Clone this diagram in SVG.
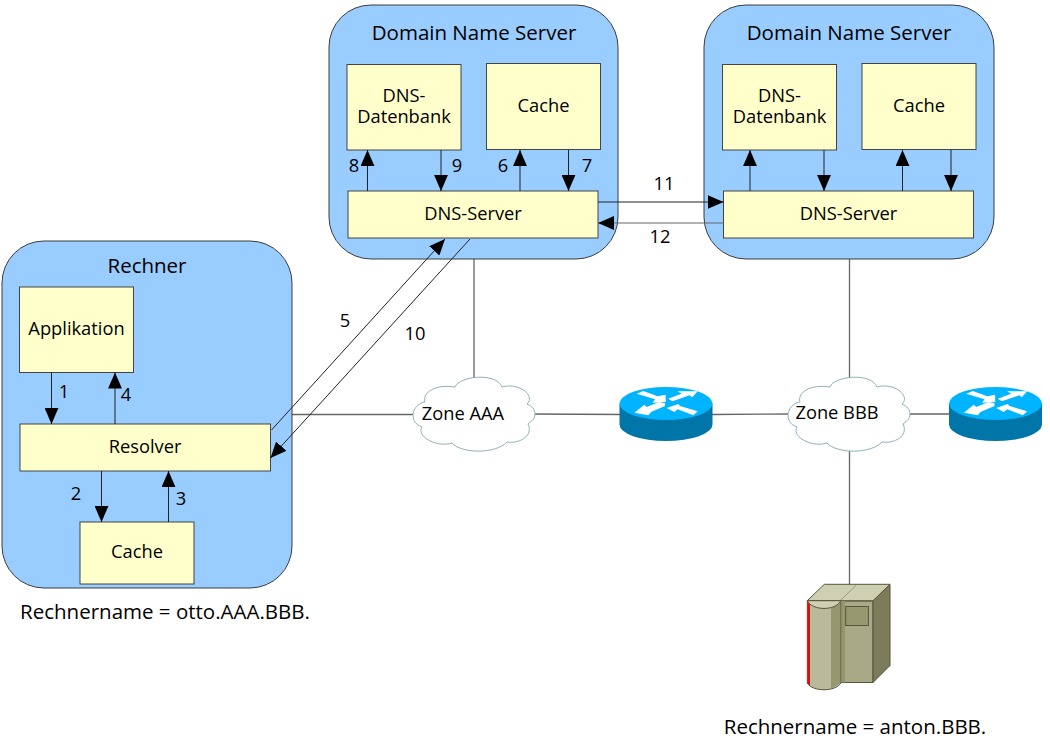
<svg xmlns="http://www.w3.org/2000/svg" width="1050" height="740" viewBox="0 0 1050 740">
<style>
text{font-family:"Open Sans","Noto Sans","DejaVu Sans",sans-serif;font-size:18.300px;fill:#000;text-anchor:middle}
.t{font-size:20.500px}
.g{fill:#99ccff;stroke:#3c3c3c;stroke-width:1}
.b{fill:#ffffcc;stroke:#444;stroke-width:1}
.c{fill:none;stroke:#222;stroke-width:1}
.a{marker-end:url(#ah)}
.n{fill:none;stroke:#666;stroke-width:1.300}
.cl{fill:#fff;stroke:#8fb0b5;stroke-width:1}
.s{stroke:#555538;stroke-width:1}
</style>
<defs>
<marker id="ah" markerUnits="userSpaceOnUse" markerWidth="16" markerHeight="14" refX="15" refY="6.500" orient="auto" viewBox="0 0 15 13"><path d="M0 0L15 6.500L0 13Z" fill="#000"/></marker>
<path id="cloud" d="M-61 0C-60-8-52-12-49-12C-52-22-38-30-19-27C-15-38 22-42 28-27C45-32 62-18 53-10C58-8 61-4 61 0C61 6 56 8 54 10C60 22 45 30 33 28C22 40-12 40-22 29C-38 34-58 22-52 13C-60 10-61 5-61 0Z"/>
<g id="router">
<path d="M0 0V21A46.500 16.500 0 0 0 93 21V0Z" fill="#0076a8"/>
<ellipse cx="46.500" cy="0" rx="46.500" ry="16.500" fill="#00b4ff"/>
<g transform="translate(-4.500 -21.500) scale(.3333)" fill="#fff">
<path d="M65 35L85 27L128 43L152 38V60L113 62L120 52Z"/>
<path d="M160 50L200 35L188 28L248 28L232 46L224 40L172 58Z"/>
<path d="M150 64L132 60L95 75L88 68L58 92L100 100L108 90L150 72Z"/>
<path d="M155 78L190 66L195 72L248 88L235 100L188 82L178 90Z"/>
</g>
</g>
</defs>
<g id="connectors">
<path class="n" d="M292 414.500H420M530 414L625 414.500M712 414.500L795 414M905 414H950M474 259V385M849.500 259V385M849.500 445V585"/>
</g>
<g id="rechner"><rect class="g" x="2" y="241" width="290" height="347" rx="42"/><text class="t" x="147" y="272.500">Rechner</text></g>
<g id="dns1"><rect class="g" x="329" y="5" width="289" height="254" rx="42"/><text class="t" x="474" y="39.500">Domain Name Server</text></g>
<g id="dns2"><rect class="g" x="704" y="5" width="290" height="254" rx="42"/><text class="t" x="849" y="39.500">Domain Name Server</text></g>
<g id="applikation"><rect class="b" x="19.500" y="287" width="114" height="85.500"/><text x="76.500" y="335">Applikation</text></g>
<g id="resolver"><rect class="b" x="20" y="424" width="250.500" height="47"/><text x="145" y="452.500">Resolver</text></g>
<g id="cache0"><rect class="b" x="80" y="522" width="114" height="62"/><text x="137" y="557.500">Cache</text></g>
<g id="db1"><rect class="b" x="347" y="64.500" width="114" height="85.500"/><text x="404" y="102">DNS-</text><text x="404" y="123">Datenbank</text></g>
<g id="cache1"><rect class="b" x="486.500" y="63.500" width="114" height="86"/><text x="543.500" y="112">Cache</text></g>
<g id="server1"><rect class="b" x="348" y="191" width="250" height="47"/><text x="473" y="220">DNS-Server</text></g>
<g id="db2"><rect class="b" x="722.500" y="64.500" width="114" height="85.500"/><text x="779.500" y="102">DNS-</text><text x="779.500" y="123">Datenbank</text></g>
<g id="cache2"><rect class="b" x="862" y="63.500" width="114" height="86"/><text x="919" y="112">Cache</text></g>
<g id="server2"><rect class="b" x="723.500" y="191" width="250" height="47"/><text x="848.500" y="220">DNS-Server</text></g>
<g id="zoneA"><use href="#cloud" x="474" y="414" class="cl"/><text x="463" y="420">Zone AAA</text></g>
<g id="zoneB"><use href="#cloud" x="849" y="414" class="cl"/><text x="837" y="419">Zone BBB</text></g>
<g id="r1"><use href="#router" x="619.500" y="403.500"/></g>
<g id="r2"><use href="#router" x="949" y="403.500"/></g>
<g id="srv">
<path class="s" d="M824 601H873V682.500H824Z" fill="#a9a987"/>
<path class="s" d="M873 600.700L890 584.300V665.500L873 682.500Z" fill="#7c7c5c"/>
<path class="s" d="M807.300 600.700L824.300 584.300H890L873 600.700Z" fill="#cfcfb4"/>
<path d="M840 600.700L856 585.500" stroke="#9a9a80" fill="none"/>
<path d="M840.700 601H845V682.500H840.700Z" fill="#97976f"/>
<rect class="s" x="845.700" y="606.500" width="22.700" height="19" fill="#979770"/>
<path class="s" d="M807.300 600.700V683C812 692 836 692 840.700 683V600.700Z" fill="#b9b99c"/>
<path d="M831 607L840.300 601V683L831 688.500Z" fill="#97976f"/>
<path class="s" d="M807.300 600.700C812 611 836 611 840.700 600.700Z" fill="#cfcfb4"/>
<path d="M807.500 601V683L810 686V605Z" fill="#d80f0f"/>
</g>
<g id="arrows">
<path class="c a" d="M51.500 372.500V424"/><path class="c a" d="M115 424V372.500"/>
<path class="c a" d="M101.500 471V522"/><path class="c a" d="M168.500 522V471"/>
<path class="c a" d="M367.500 191V150"/><path class="c a" d="M441 150V191"/>
<path class="c a" d="M520 191V150"/><path class="c a" d="M568.500 150V191"/>
<path class="c a" d="M750 191V150"/><path class="c a" d="M824 150V191"/>
<path class="c a" d="M902.500 191V150"/><path class="c a" d="M951 150V191"/>
<path class="c a" d="M598 202H723.500"/><path class="c a" style="stroke:#666" d="M723.500 223H598"/>
<path class="c a" d="M271.500 430L445 239"/><path class="c a" d="M470 239L270.500 458"/>
</g>
<g id="labels">
<text x="64" y="398">1</text><text x="126" y="401">4</text><text x="76" y="500">2</text><text x="181" y="505">3</text>
<text x="345" y="326.500">5</text><text x="415" y="339.500">10</text>
<text x="354" y="172">8</text><text x="457" y="172">9</text><text x="503" y="172">6</text><text x="587" y="172">7</text>
<text x="664" y="190">11</text><text x="660" y="243">12</text>
<text class="t" x="165" y="619">Rechnername = otto.AAA.BBB.</text>
<text class="t" x="855" y="734">Rechnername = anton.BBB.</text>
</g>
</svg>
